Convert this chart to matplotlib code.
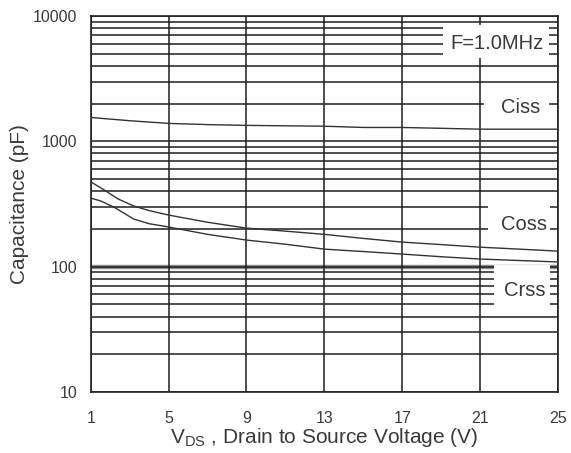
import matplotlib
matplotlib.use('Agg')
import matplotlib.pyplot as plt
from matplotlib.patches import Rectangle
from matplotlib.ticker import LogLocator, NullFormatter, FixedLocator

plt.rcParams['font.family'] = ['Liberation Sans', 'DejaVu Sans']

# values (pF vs V)
vds_ciss = [1, 3, 5, 7, 9, 11, 13, 15, 17, 19, 21, 23, 25]
ciss = [1550, 1460, 1390, 1360, 1340, 1330, 1320, 1290, 1290, 1270, 1250, 1250, 1250]

vds_oss = [1, 1.7, 2.4, 3.2, 4, 5, 7, 9, 11, 13, 15, 17, 19, 21, 23, 25]
coss = [475, 408, 347, 305, 280, 258, 226, 203, 192, 181, 168, 157, 150, 143, 138, 133]

vds_rss = [1, 1.5, 2.2, 3.2, 4, 4.8, 7, 9, 11, 13, 15, 17, 19, 21, 23, 25]
crss = [352, 335, 298, 240, 220, 210, 181, 163, 151, 138, 132, 126, 120, 115, 112, 109]

xticks = [1, 5, 9, 13, 17, 21, 25]
yticks = [10, 100, 1000, 10000]
ytick_labels = ['10', '100', '1000', '10000']

txt = '#3a3a3a'
gridc = '#1e1e1e'

fig = plt.figure(figsize=(5.71, 4.53), dpi=100)
ax = fig.add_axes([0.159, 0.1347, 0.818, 0.83])
ax.set_yscale('log')
ax.set_xlim(1, 25)
ax.set_ylim(10, 10000)

ax.xaxis.set_major_locator(FixedLocator(xticks))
ax.set_yticks(yticks)
ax.set_yticklabels(ytick_labels)
ax.yaxis.set_minor_locator(LogLocator(base=10, subs=range(2, 10)))
ax.yaxis.set_minor_formatter(NullFormatter())
ax.tick_params(which='both', length=0, labelsize=11.5, colors=txt)
ax.tick_params(axis='x', pad=14)
ax.tick_params(axis='y', pad=9.5)

ax.grid(True, which='both', axis='y', color=gridc, lw=1.1, zorder=1)
ax.grid(True, which='major', axis='x', color=gridc, lw=1.1, zorder=1)
# grey band at 100
ax.axhline(100, color='#8c8c8c', lw=3.2, zorder=1.5)

for s in ax.spines.values():
    s.set_color('#222222')
    s.set_linewidth(1.2)

# white label boxes hiding the grid
boxes = [(19.1, 4600, 24.55, 8450),
         (21.2, 1480, 24.55, 2480),
         (21.4, 163, 24.6, 353),
         (21.7, 45, 24.6, 103)]
for x0, y0, x1, y1 in boxes:
    ax.add_patch(Rectangle((x0, y0), x1 - x0, y1 - y0, facecolor='white',
                           edgecolor='none', zorder=2))

ax.plot(vds_ciss, ciss, color='#333333', lw=1.0, zorder=3)
ax.plot(vds_oss, coss, color='#333333', lw=1.0, zorder=3)
ax.plot(vds_rss, crss, color='#333333', lw=1.0, zorder=3)

ax.text(21.85, 6000, 'F=1.0MHz', ha='center', va='center', fontsize=14.5, color=txt, zorder=4)
ax.text(23.1, 1850, 'Ciss', ha='center', va='center', fontsize=14.5, color=txt, zorder=4)
ax.text(23.25, 216, 'Coss', ha='center', va='center', fontsize=14.5, color=txt, zorder=4)
ax.text(23.3, 65, 'Crss', ha='center', va='center', fontsize=14.5, color=txt, zorder=4)

ax.set_ylabel('Capacitance (pF)', fontsize=15, color=txt, labelpad=3)
ax.set_xlabel('V$_{\\mathregular{DS}}$ , Drain to Source Voltage (V)', fontsize=15, color=txt, labelpad=0)

fig.savefig('out.png', dpi=100)
